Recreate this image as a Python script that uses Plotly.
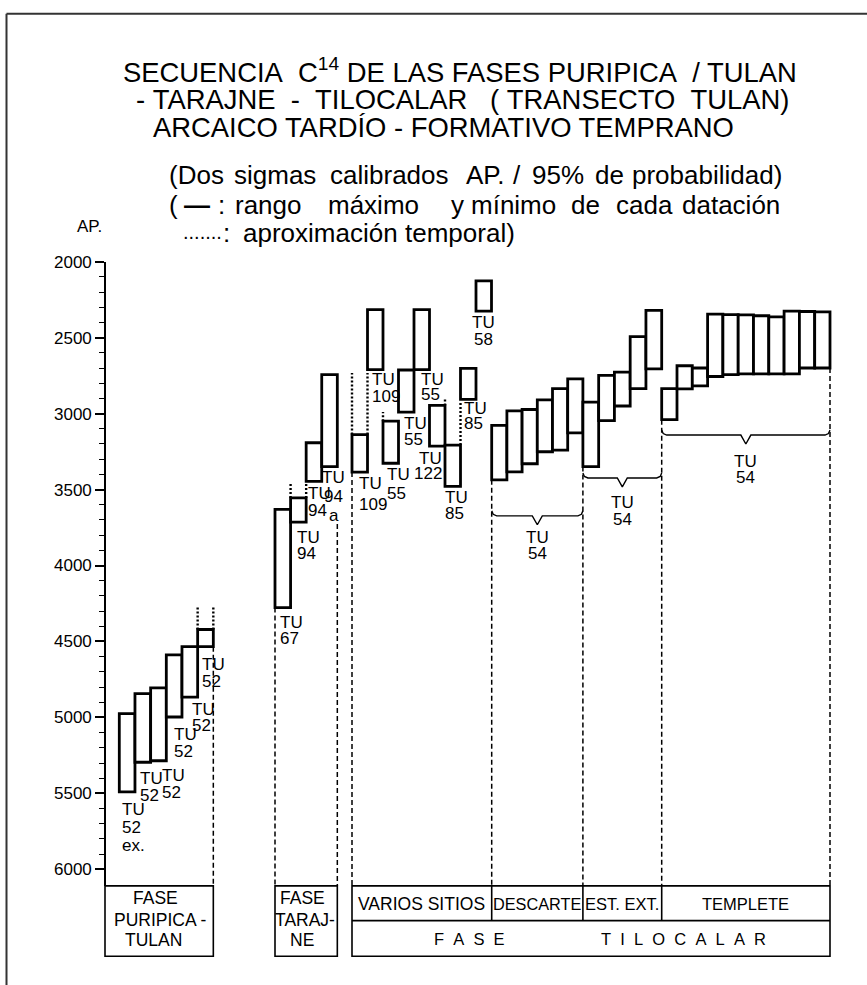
import plotly.graph_objects as go

# ---------------- data (calibrated years AP) ----------------
tick_years = [2000, 2500, 3000, 3500, 4000, 4500, 5000, 5500, 6000]
tick_labels = [str(v) for v in tick_years]

puripica_labels = ["TU<br>52<br>ex.", "TU<br>52", "TU<br>52", "TU<br>52", "TU<br>52", "TU<br>52"]
puripica_young = [4975, 4843, 4806, 4588, 4534, 4421]
puripica_old = [5490, 5295, 5285, 4997, 4866, 4534]

tarajne_labels = ["TU<br>67", "TU<br>94", "TU<br>94", "TU<br>94<br>a"]
tarajne_young = [3631, 3555, 3192, 2744]
tarajne_old = [4277, 3714, 3446, 3349]

varios_labels = ["TU<br>109", "TU<br>109", "TU<br>55", "TU<br>55", "TU<br>55",
                 "TU<br>122", "TU<br>85", "TU<br>85", "TU<br>58"]
varios_young = [3138, 2315, 3050, 2713, 2315, 2946, 3207, 2702, 2126]
varios_old = [3385, 2711, 3327, 2990, 2711, 3214, 3479, 2907, 2326]

descarte_young = [3077, 2982, 2973, 2910, 2836, 2772]
descarte_old = [3436, 3383, 3330, 3251, 3240, 3127]

estext_young = [2925, 2748, 2727, 2494, 2321]
estext_old = [3349, 3046, 2950, 2836, 2705]

templete_young = [2835, 2685, 2700, 2345, 2348, 2350, 2356, 2364, 2326, 2328, 2331]
templete_old = [3040, 2837, 2818, 2756, 2744, 2738, 2738, 2738, 2738, 2700, 2700]

bracket_labels = ["TU<br>54", "TU<br>54", "TU<br>54"]

# dotted "aproximación temporal" extensions
approx_series = ["puripica", "tarajne", "tarajne", "varios", "varios", "varios", "varios"]
approx_index = [5, 1, 1, 0, 2, 5, 6]
approx_edge = ["both", "left", "right", "both", "left", "right", "right"]
approx_year = [4270, 3455, 3446, 2733, 2990, 2900, 2925]

# ---------------- layout helpers ----------------
W, H = 867, 985
AXIS_X = 105
Y_TOP_PX, Y_BOT_PX = 255, 885
AP_TOP = 2000
AP_PER_PX = 4000 / (868.3 - 255)
AP_BOT = AP_TOP + (Y_BOT_PX - Y_TOP_PX) * AP_PER_PX


def ap2px(v):
    return Y_TOP_PX + (v - AP_TOP) / AP_PER_PX


def px2ap(p):
    return AP_TOP + (p - Y_TOP_PX) * AP_PER_PX


def yp(p):
    return 1 - p / H


def xp(p):
    return p / W


NARROW = "Liberation Sans Narrow, Arial Narrow, sans-serif"
SANS = "Liberation Sans, Arial, Helvetica, sans-serif"
CAP = 12.5

series = {
    "puripica": dict(young=puripica_young, old=puripica_old, labels=puripica_labels, x0=119.3, w=15.67,
                     lab=[(1, 11, 18, "left"), (3, 10, 17, "left"), (9, 9, 17, "left"),
                          (6, 11, 17, "left"), (8, 6, 16, "left"), (2, 12, 17, "left")]),
    "tarajne": dict(young=tarajne_young, old=tarajne_old, labels=tarajne_labels, x0=275, w=15.58,
                    lab=[(3, 9, 16, "left"), (4, 9, 16, "left"), (0, 6, 17, "left"), (4, 5, 19, "center")]),
    "varios": dict(young=varios_young, old=varios_old, labels=varios_labels, x0=352, w=15.5,
                   lab=[(5, 5, 21, "left"), (2, 4, 17, "left"), (2, 5, 19, "left"), (3.5, 5, 16, "left"),
                        (5, 4, 15, "left"), (14, 6, 15, "right"), (-2, 5, 16, "left"), (1.5, 3, 15, "left"),
                        (0, 5, 17, "center")]),
    "descarte": dict(young=descarte_young, old=descarte_old, labels=None, x0=491.7, w=15.2, lab=None),
    "estext": dict(young=estext_young, old=estext_old, labels=None, x0=582.9, w=15.76, lab=None),
    "templete": dict(young=templete_young, old=templete_old, labels=None, x0=661.7, w=15.3, lab=None),
}

fig = go.Figure()


def left_edge(g, i):
    return g["x0"] + i * g["w"]


def right_end(g):
    return g["x0"] + len(g["young"]) * g["w"]


annotations = []


def add_text(x, y, text, size=17, family=NARROW, xanchor="left", xref="x", yref="y", yshift=0, xshift=0):
    annotations.append(dict(x=x, y=y, xref=xref, yref=yref, text=text, showarrow=False,
                            xanchor=xanchor, yanchor="middle", xshift=xshift, yshift=yshift,
                            font=dict(family=family, size=size, color="black")))


# dashed guide lines down to the table
dashed = [
    (right_end(series["puripica"]), puripica_old[5]),
    (series["tarajne"]["x0"], tarajne_old[0]),
    (right_end(series["tarajne"]), px2ap(ap2px(tarajne_old[3]) + 58)),
    (series["varios"]["x0"], varios_old[0]),
    (series["descarte"]["x0"], descarte_old[0]),
    (series["estext"]["x0"], estext_old[0]),
    (series["templete"]["x0"], templete_old[0]),
    (right_end(series["templete"]), templete_old[-1]),
]
for x, start in dashed:
    fig.add_trace(go.Scatter(x=[x, x], y=[start, AP_BOT], mode="lines",
                             line=dict(color="black", width=1.5, dash="5px,3px"),
                             hoverinfo="skip", showlegend=False))

# dotted approximations
for s, i, edge, yr in zip(approx_series, approx_index, approx_edge, approx_year):
    g = series[s]
    xl = left_edge(g, i)
    xr = xl + g["w"]
    xs = {"left": [xl], "right": [xr], "both": [xl, xr]}[edge]
    for x in xs:
        fig.add_trace(go.Scatter(x=[x, x], y=[g["young"][i], yr], mode="lines",
                                 line=dict(color="black", width=2.4, dash="2px,2px"),
                                 hoverinfo="skip", showlegend=False))

# range boxes
for key, g in series.items():
    n = len(g["young"])
    fig.add_trace(go.Bar(
        x=[left_edge(g, i) + g["w"] / 2 for i in range(n)],
        y=[o - y for y, o in zip(g["young"], g["old"])],
        base=g["young"], width=g["w"],
        marker=dict(color="white", line=dict(color="black", width=2.8)),
        hoverinfo="skip", showlegend=False))
    if g["labels"]:
        for i, (lab, (dx, dy, sp, anc)) in enumerate(zip(g["labels"], g["lab"])):
            if anc == "center":
                x = left_edge(g, i) + g["w"] / 2
            else:
                x = left_edge(g, i)
            for k, line in enumerate(lab.split("<br>")):
                add_text(x, g["old"][i], line, xanchor=anc, xshift=dx,
                         yshift=-(dy + CAP / 2 + k * sp))

# brackets under TU 54 groups
BRACKET_PX = [511.5, 473.3, 430]
BRACKET_LABEL_PX = [527, 492, 450]
for key, lvl, ltop, lab in zip(["descarte", "estext", "templete"], BRACKET_PX, BRACKET_LABEL_PX, bracket_labels):
    g = series[key]
    x0, x1 = g["x0"], right_end(g)
    xc = (x0 + x1) / 2
    xs = [x0, x0 + 1.5, x0 + 5, xc - 5, xc, xc + 5, x1 - 5, x1 - 1.5, x1]
    ys = [lvl - 5, lvl - 1.5, lvl, lvl, lvl + 9, lvl, lvl, lvl - 1.5, lvl - 5]
    fig.add_trace(go.Scatter(x=xs, y=[px2ap(v) for v in ys], mode="lines",
                             line=dict(color="black", width=1.4), hoverinfo="skip", showlegend=False))
    for k, line in enumerate(lab.split("<br>")):
        add_text(xc, px2ap(ltop + CAP / 2 + k * 16.5), line, xanchor="center")

# ---------------- titles ----------------
NB = "\u00a0"
title_lines = [
    ("SECUENCIA" + NB * 2 + "C<sup>14</sup> DE LAS FASES PURIPICA" + NB * 2 + "/ TULAN", 460, 62),
    ("-" + NB + "TARAJNE" + NB * 2 + "-" + NB * 2 + "TILOCALAR" + NB * 3 + "(" + NB + "TRANSECTO" + NB * 2 + "TULAN)", 462.5, 91),
    ("ARCAICO TARDÍO - FORMATIVO TEMPRANO", 443.5, 120),
]
for txt, x, y in title_lines:
    add_text(xp(x), yp(y), txt, size=27.4, family=SANS, xanchor="center", xref="paper", yref="paper")

# subtitle words: (text, left x, line centre y, size)
sub_words = [
    ("(Dos", 167, 168, 26), ("sigmas", 232, 168, 26), ("calibrados", 328, 168, 26), ("AP.", 464, 168, 26),
    ("/", 511, 168, 26), ("95%", 530, 168, 26), ("de", 593, 168, 26), ("probabilidad)", 630, 168, 26),
    ("(", 167, 198, 26), ("<b>—</b>", 182, 198, 26), (":", 216, 198, 26), ("rango", 233, 198, 26),
    ("máximo", 326, 198, 26), ("y", 449, 198, 26), ("mínimo", 469, 198, 26), ("de", 569, 198, 26),
    ("cada", 614, 198, 26), ("datación", 680, 198, 26),
    (".......", 181, 225, 20), (":", 221, 226, 26), ("aproximación", 241, 226, 26), ("temporal)", 403, 226, 26),
]
for txt, x, y, s in sub_words:
    add_text(xp(x), yp(y), txt, size=s, family=SANS, xref="paper", yref="paper")

add_text(xp(75), yp(220), "AP.", size=17, family=SANS, xref="paper", yref="paper")

# ---------------- bottom table ----------------
shapes = []
TAB_T, TAB_M, TAB_B = 885, 920, 956


def rect(x0, x1, y0, y1):
    shapes.append(dict(type="rect", xref="x", yref="paper", x0=x0, x1=x1, y0=yp(y1), y1=yp(y0),
                       line=dict(color="black", width=1.6), fillcolor="rgba(0,0,0,0)"))


def vline(x, y0, y1, width=1.6):
    shapes.append(dict(type="line", xref="x", yref="paper", x0=x, x1=x, y0=yp(y0), y1=yp(y1),
                       line=dict(color="black", width=width)))


def hline(x0, x1, y, width=1.6):
    shapes.append(dict(type="line", xref="x", yref="paper", x0=x0, x1=x1, y0=yp(y), y1=yp(y),
                       line=dict(color="black", width=width)))


rect(AXIS_X, right_end(series["puripica"]), TAB_T, TAB_B)
rect(series["tarajne"]["x0"], right_end(series["tarajne"]), TAB_T, TAB_B)
rect(series["varios"]["x0"], right_end(series["templete"]), TAB_T, TAB_B)
hline(series["varios"]["x0"], right_end(series["templete"]), TAB_M)
for key in ["descarte", "estext", "templete"]:
    vline(series[key]["x0"], TAB_T, TAB_M)

for txt, x, y in [("FASE", 155, 897), ("PURIPICA -", 160, 919), ("TULAN", 153, 940),
                  ("FASE", 302, 897), ("TARAJ-", 305, 919), ("NE", 302, 940)]:
    add_text(x, yp(y), txt, size=17.5, family=SANS, xanchor="center", yref="paper")

for key, txt, s in [("varios", "VARIOS SITIOS", 17.5), ("descarte", "DESCARTE", 16.3),
                    ("estext", "EST. EXT.", 16.5), ("templete", "TEMPLETE", 16.5)]:
    g = series[key]
    add_text((g["x0"] + right_end(g)) / 2, yp(903), txt, size=s, family=SANS, xanchor="center", yref="paper")

add_text(469.5, yp(939), (NB * 2).join("FASE"), size=16.5, family=SANS, xanchor="center", yref="paper")
add_text(683, yp(939), (NB * 2).join("TILOCALAR"), size=16.5, family=SANS, xanchor="center", yref="paper")

# picture frame (top and left)
shapes.append(dict(type="line", xref="paper", yref="paper", x0=xp(6.5), x1=1, y0=yp(4.7), y1=yp(4.7),
                   line=dict(color="#333", width=2)))
shapes.append(dict(type="line", xref="paper", yref="paper", x0=xp(6.5), x1=xp(6.5), y0=yp(4.7), y1=0,
                   line=dict(color="#333", width=2)))

minor_vals = [v for v in range(2100, 6000, 100) if v % 500]

fig.update_layout(
    width=W, height=H, margin=dict(l=0, r=0, t=0, b=0),
    paper_bgcolor="white", plot_bgcolor="rgba(0,0,0,0)",
    barmode="overlay", showlegend=False,
    xaxis=dict(range=[0, W], domain=[0, 1], visible=False, fixedrange=True),
    yaxis=dict(range=[AP_BOT, AP_TOP], domain=[yp(Y_BOT_PX), yp(Y_TOP_PX)],
               anchor="free", position=AXIS_X / W, side="left",
               showline=True, linecolor="black", linewidth=1.6,
               ticks="outside", ticklen=9, tickwidth=1.5, tickcolor="black",
               tickmode="array", tickvals=tick_years, ticktext=tick_labels,
               tickfont=dict(family=SANS, size=17, color="black"),
               minor=dict(ticks="outside", ticklen=5, tickwidth=1.4, tickcolor="black",
                          tickmode="array", tickvals=minor_vals),
               showgrid=False, zeroline=False, fixedrange=True),
    annotations=annotations, shapes=shapes,
)

fig.write_html("out.html", config={"displayModeBar": False},
               post_script="document.body.style.margin='0px';document.body.style.overflow='hidden';")
